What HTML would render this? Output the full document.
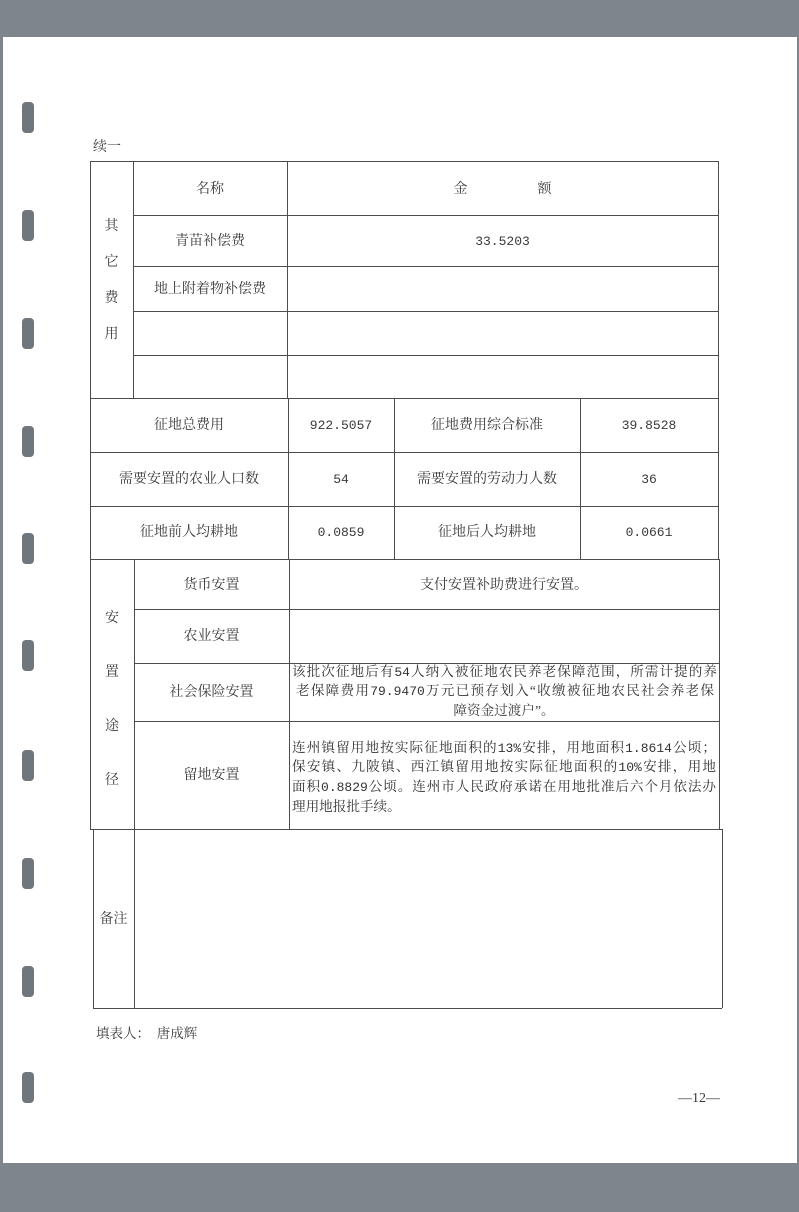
<!DOCTYPE html>
<html><head><meta charset="utf-8"><style>
html,body{margin:0;padding:0}
body{width:799px;height:1212px;background:#7e858c;position:relative;overflow:hidden;font-family:"Liberation Serif","Noto Serif CJK SC","Noto Sans CJK SC",serif;color:#3a3a3a}
.page{position:absolute;left:3px;top:37px;width:794px;height:1126px;background:#fff}
.h{position:absolute;height:0;border-top:1.3px solid #4a4d50}
.v{position:absolute;width:0;border-left:1.3px solid #4a4d50}
.t{position:absolute;font-size:14px;text-align:center;white-space:nowrap;line-height:16px}
.n{font-family:"Liberation Mono",monospace;font-size:13px}
.hole{position:absolute;left:22px;width:12px;height:31px;background:#6f767c;border-radius:4px}
.l{position:absolute;font-size:13.6px;line-height:19.5px;color:#333;white-space:nowrap;text-align:justify;text-align-last:justify}
.l .n{font-size:13px}
</style></head><body>
<div class="page"></div>
<div class="hole" style="top:102px"></div>
<div class="hole" style="top:210px"></div>
<div class="hole" style="top:318px"></div>
<div class="hole" style="top:426px"></div>
<div class="hole" style="top:533px"></div>
<div class="hole" style="top:640px"></div>
<div class="hole" style="top:750px"></div>
<div class="hole" style="top:858px"></div>
<div class="hole" style="top:966px"></div>
<div class="hole" style="top:1072px"></div>

<div class="t" style="left:93px;top:140px">续一</div>

<!-- section 1 -->
<div class="h" style="left:90px;top:161px;width:628px"></div>
<div class="h" style="left:133px;top:215px;width:585px"></div>
<div class="h" style="left:133px;top:266px;width:585px"></div>
<div class="h" style="left:133px;top:311px;width:585px"></div>
<div class="h" style="left:133px;top:355px;width:585px"></div>
<div class="h" style="left:90px;top:398px;width:628px"></div>
<div class="v" style="left:90px;top:161px;height:398px"></div>
<div class="v" style="left:133px;top:161px;height:237px"></div>
<div class="v" style="left:287px;top:161px;height:237px"></div>
<div class="v" style="left:718px;top:161px;height:398px"></div>
<div class="t" style="left:133px;width:154px;top:182px">名称</div>
<div class="t" style="left:287px;width:431px;top:182px">金&emsp;&emsp;&emsp;&emsp;&emsp;额</div>
<div class="t" style="left:133px;width:154px;top:234px">青苗补偿费</div>
<div class="t n" style="left:287px;width:431px;top:234px">33.5203</div>
<div class="t" style="left:133px;width:154px;top:282px">地上附着物补偿费</div>
<div class="t" style="left:90px;width:43px;top:209px;line-height:36px;white-space:normal">其<br>它<br>费<br>用</div>

<!-- section 2 -->
<div class="h" style="left:90px;top:452px;width:628px"></div>
<div class="h" style="left:90px;top:506px;width:628px"></div>
<div class="h" style="left:90px;top:559px;width:630px"></div>
<div class="v" style="left:288px;top:398px;height:161px"></div>
<div class="v" style="left:394px;top:398px;height:161px"></div>
<div class="v" style="left:580px;top:398px;height:161px"></div>
<div class="t" style="left:90px;width:198px;top:418px">征地总费用</div>
<div class="t n" style="left:288px;width:106px;top:418px">922.5057</div>
<div class="t" style="left:394px;width:186px;top:418px">征地费用综合标准</div>
<div class="t n" style="left:580px;width:138px;top:418px">39.8528</div>
<div class="t" style="left:90px;width:198px;top:472px">需要安置的农业人口数</div>
<div class="t n" style="left:288px;width:106px;top:472px">54</div>
<div class="t" style="left:394px;width:186px;top:472px">需要安置的劳动力人数</div>
<div class="t n" style="left:580px;width:138px;top:472px">36</div>
<div class="t" style="left:90px;width:198px;top:525px">征地前人均耕地</div>
<div class="t n" style="left:288px;width:106px;top:525px">0.0859</div>
<div class="t" style="left:394px;width:186px;top:525px">征地后人均耕地</div>
<div class="t n" style="left:580px;width:138px;top:525px">0.0661</div>

<!-- section 3 -->
<div class="v" style="left:90px;top:559px;height:270px"></div>
<div class="v" style="left:134px;top:559px;height:449px"></div>
<div class="v" style="left:289px;top:559px;height:270px"></div>
<div class="v" style="left:719px;top:559px;height:270px"></div>
<div class="h" style="left:134px;top:609px;width:585px"></div>
<div class="h" style="left:134px;top:663px;width:585px"></div>
<div class="h" style="left:134px;top:721px;width:585px"></div>
<div class="h" style="left:90px;top:829px;width:632px"></div>
<div class="t" style="left:90px;width:44px;top:592px;line-height:54px;white-space:normal">安<br>置<br>途<br>径</div>
<div class="t" style="left:134px;width:155px;top:578px">货币安置</div>
<div class="t" style="left:289px;width:430px;top:578px">支付安置补助费进行安置。</div>
<div class="t" style="left:134px;width:155px;top:629px">农业安置</div>
<div class="t" style="left:134px;width:155px;top:685px">社会保险安置</div>
<div class="l" style="left:292px;top:662px;width:425px">该批次征地后有<span class="n">54</span>人纳入被征地农民养老保障范围，所需计提的养</div>
<div class="l" style="left:296px;top:681px;width:418px">老保障费用<span class="n">79.9470</span>万元已预存划入“收缴被征地农民社会养老保</div>
<div class="t" style="left:289px;width:430px;top:703px;font-size:13.6px">障资金过渡户”。</div>
<div class="t" style="left:134px;width:155px;top:768px">留地安置</div>
<div class="l" style="left:292px;top:738px;width:424px">连州镇留用地按实际征地面积的<span class="n">13%</span>安排，用地面积<span class="n">1.8614</span>公顷；</div>
<div class="l" style="left:292px;top:757px;width:424px">保安镇、九陂镇、西江镇留用地按实际征地面积的<span class="n">10%</span>安排，用地</div>
<div class="l" style="left:292px;top:777px;width:424px">面积<span class="n">0.8829</span>公顷。连州市人民政府承诺在用地批准后六个月依法办</div>
<div class="t" style="left:292px;top:799px;font-size:13.6px;color:#333">理用地报批手续。</div>

<!-- section 4 -->
<div class="v" style="left:93px;top:829px;height:179px"></div>
<div class="v" style="left:722px;top:829px;height:179px"></div>
<div class="h" style="left:93px;top:1008px;width:629px"></div>
<div class="t" style="left:93px;width:41px;top:912px">备注</div>

<div class="t" style="left:96px;top:1026px;font-size:13.5px">填表人：&ensp;唐成辉</div>
<div class="t" style="left:678px;top:1091px;font-size:14px">—12—</div>
</body></html>
